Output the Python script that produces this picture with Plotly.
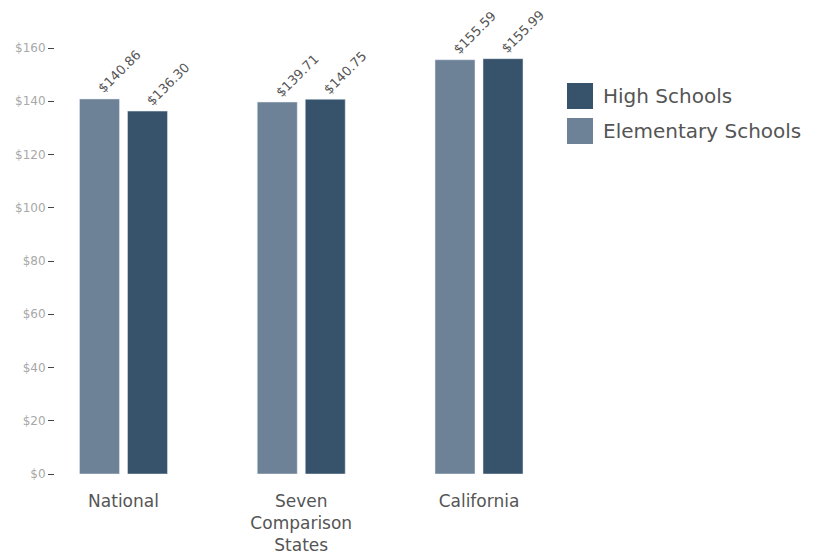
import plotly.graph_objects as go

categories = ["National", "Seven<br>Comparison<br>States", "California"]
elementary = [140.86, 139.71, 155.59]
high = [136.30, 140.75, 155.99]
y_ticks = [0, 20, 40, 60, 80, 100, 120, 140, 160]
y_tick_labels = ["$" + str(v) for v in y_ticks]

C_ELEM = "#6d8297"
C_HIGH = "#37536b"
FONT = "'DejaVu Sans', sans-serif"

OFF = 8  # page body margin
W, H = 823, 556
L, T = 55 - OFF, 48 - OFF
PW, PH = 485, 426
R, B = W - L - PW, H - T - PH

fig = go.Figure()
fig.add_bar(x=categories, y=elementary, name="Elementary Schools", marker_color=C_ELEM)
fig.add_bar(x=categories, y=high, name="High Schools", marker_color=C_HIGH)

for vals, xs in ((elementary, -24 + 20), (high, 24 + 20)):
    for c, v in zip(categories, vals):
        fig.add_annotation(x=c, y=v, xref="x", yref="y", text=f"${v:.2f}", showarrow=False,
                           textangle=-45, xanchor="center", yanchor="middle",
                           xshift=xs, yshift=27,
                           font=dict(size=13, color="#555555", family=FONT))

fig.update_layout(
    width=W, height=H,
    margin=dict(l=L, r=R, t=T, b=B),
    plot_bgcolor="white", paper_bgcolor="white",
    barmode="group", bargap=0.46, bargroupgap=0.1667,
    showlegend=False,
    font=dict(family=FONT),
)
fig.update_xaxes(range=[-(123.5 - 55) / 177.75, (540 - 123.5) / 177.75], showgrid=False,
                 showline=False, ticks="", automargin=False,
                 tickfont=dict(size=17, color="#555555", family=FONT), ticklabelstandoff=15)
fig.update_yaxes(range=[0, 160], tickvals=y_ticks, ticktext=y_tick_labels, showgrid=False,
                 zeroline=False, showline=False, ticks="outside", ticklen=6, tickcolor="#444444",
                 automargin=False,
                 tickfont=dict(size=12, color="#a8a8a8", family=FONT))

legend_items = [("High Schools", C_HIGH), ("Elementary Schools", C_ELEM)]
for i, (name, col) in enumerate(legend_items):
    y0 = 83 + i * 35 - OFF
    fig.add_shape(type="rect", xref="paper", yref="paper",
                  x0=(567 - OFF - L) / PW, x1=(593 - OFF - L) / PW,
                  y0=1 - (y0 + 26 - T) / PH, y1=1 - (y0 - T) / PH,
                  fillcolor=col, line_width=0)
    fig.add_annotation(xref="paper", yref="paper", x=(601 - OFF - L) / PW,
                       y=1 - (y0 + 13 - T) / PH, text=name, showarrow=False,
                       xanchor="left", yanchor="middle",
                       font=dict(size=20, color="#555555", family=FONT))

fig.write_html("out.html")
